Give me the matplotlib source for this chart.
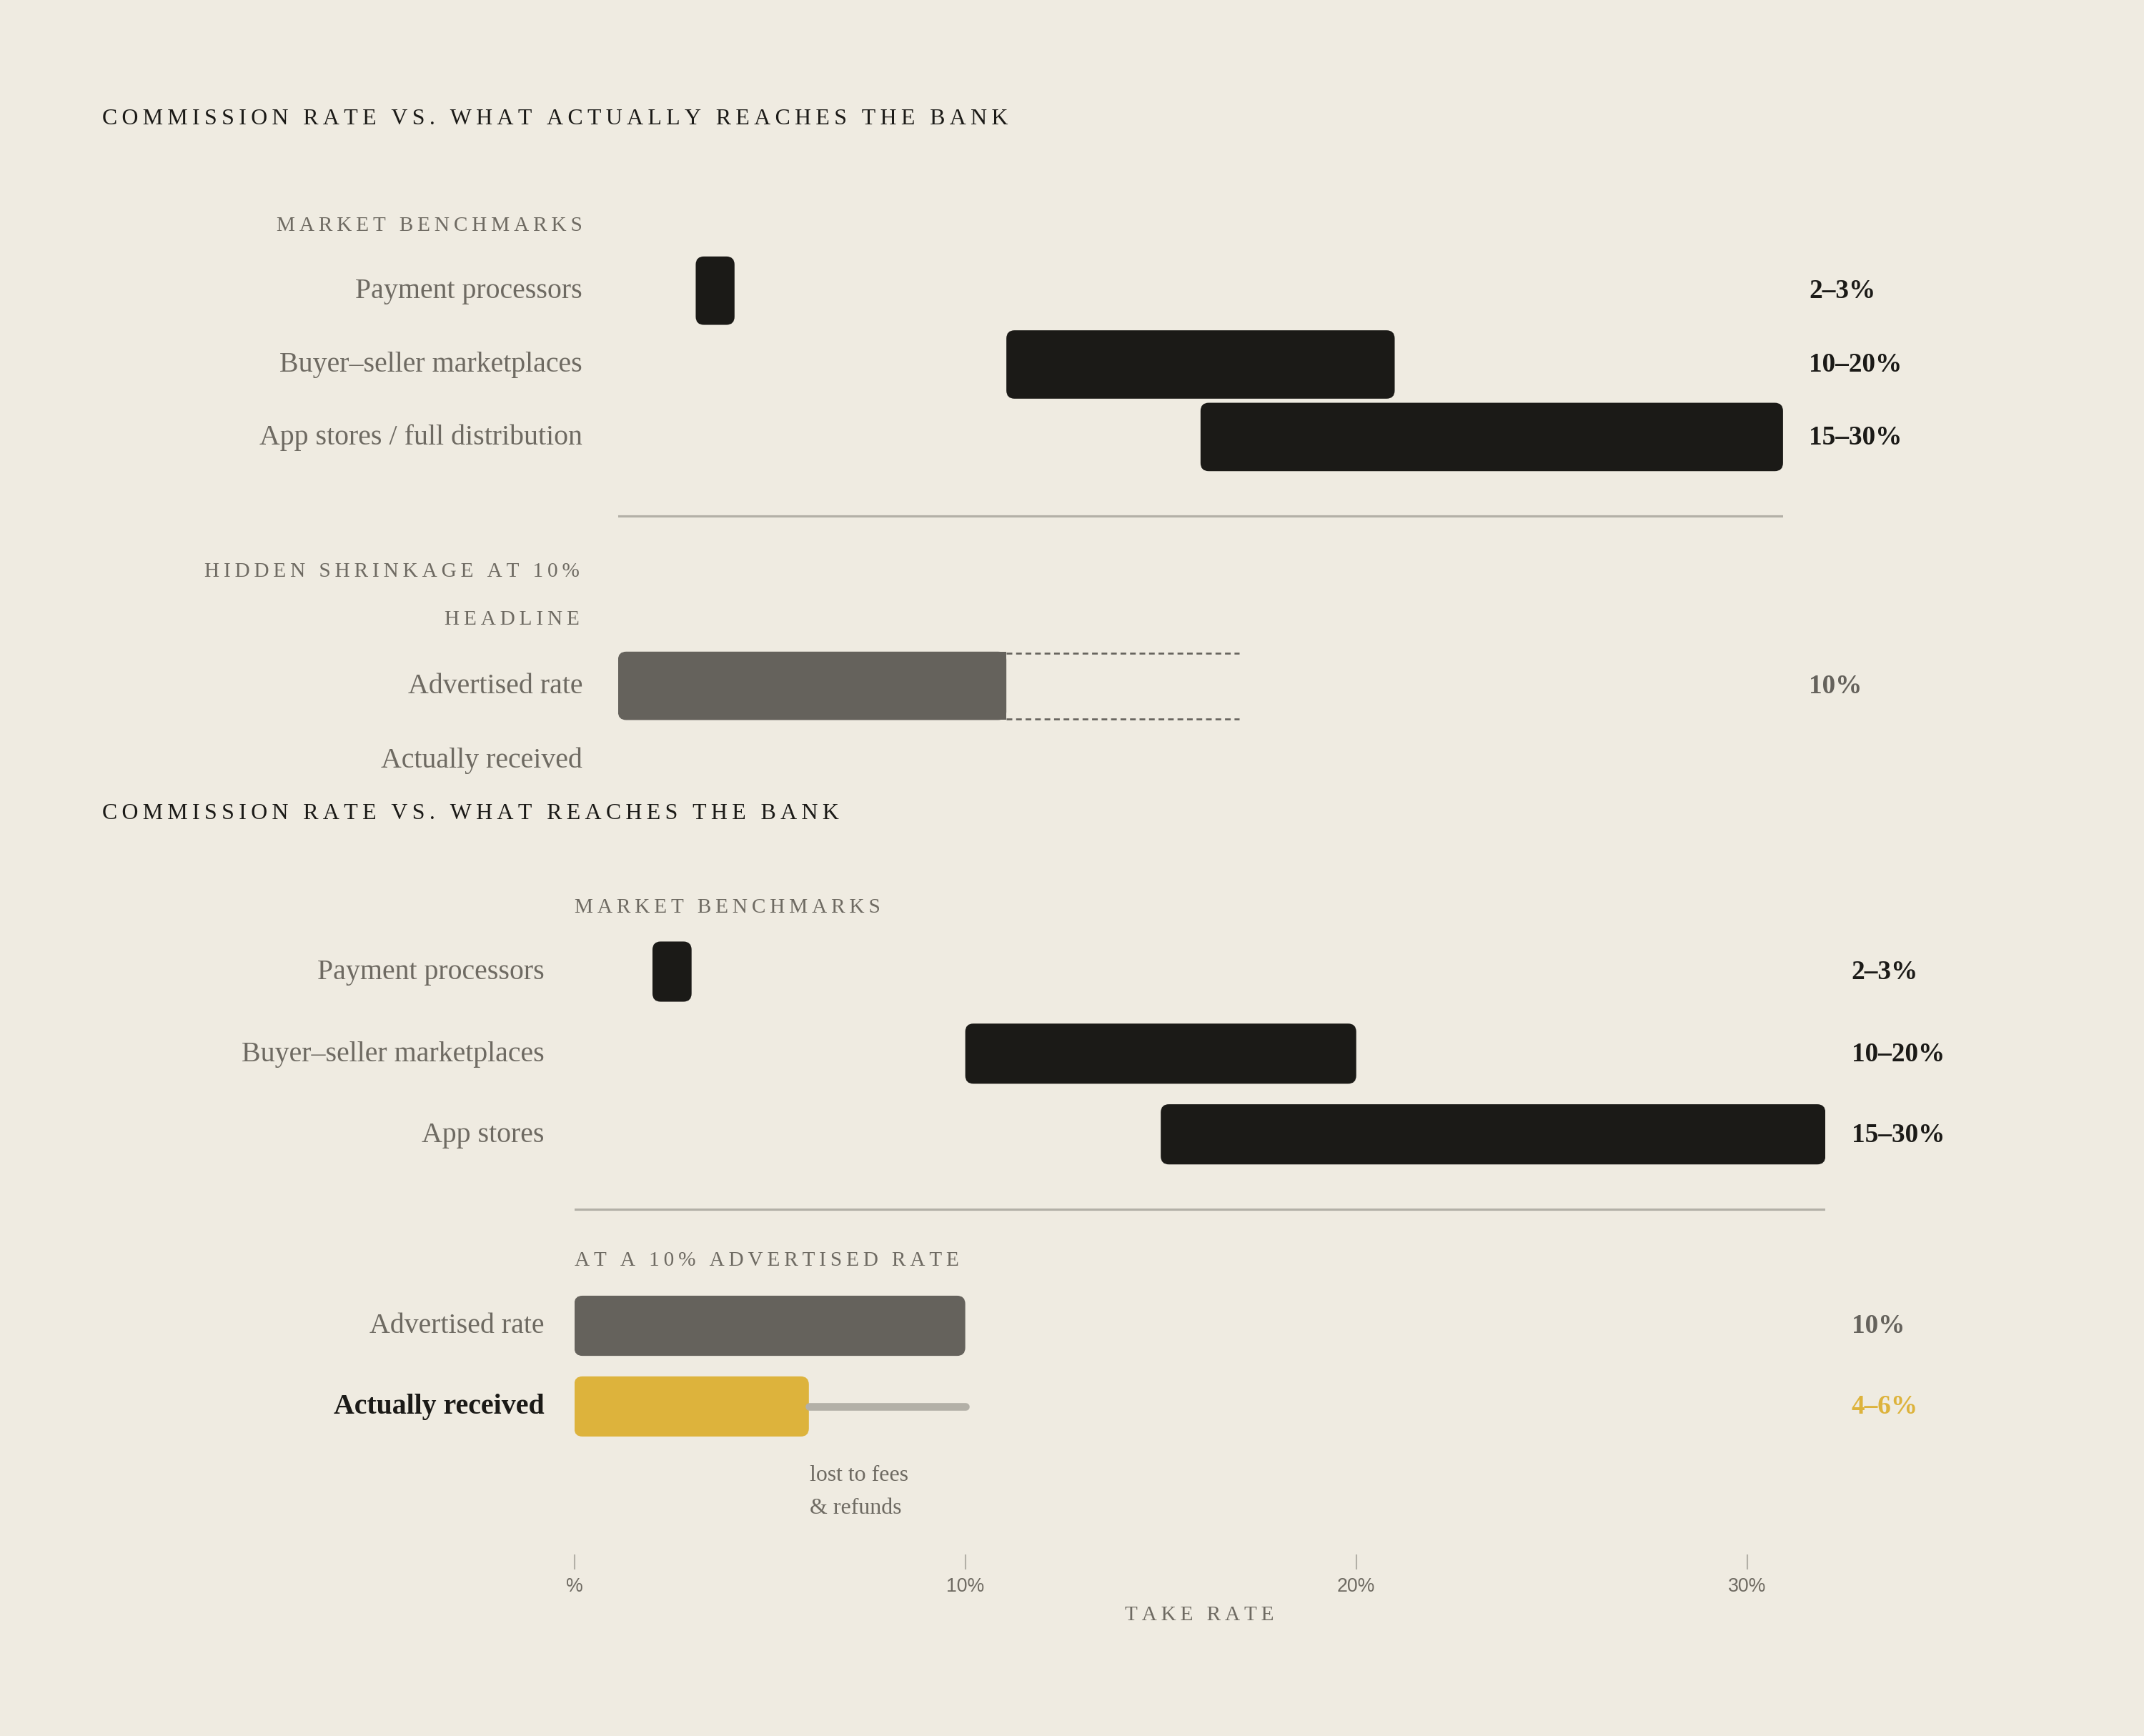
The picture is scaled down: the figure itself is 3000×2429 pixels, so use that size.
import matplotlib.pyplot as plt
from matplotlib.patches import FancyBboxPatch

# data
top_cats = ["Payment processors", "Buyer\u2013seller marketplaces", "App stores / full distribution"]
top_lo = [2.0, 10.0, 15.0]
top_hi = [3.0, 20.0, 30.0]
top_vals = ["2\u20133%", "10\u201320%", "15\u201330%"]

bot_cats = ["Payment processors", "Buyer\u2013seller marketplaces", "App stores"]
bot_lo = [2.0, 10.0, 15.0]
bot_hi = [3.0, 20.0, 32.0]
bot_vals = ["2\u20133%", "10\u201320%", "15\u201330%"]

advertised = 10.0
received = 6.0
ticks = [0, 10, 20, 30]
tick_labels = ["%", "10%", "20%", "30%"]

BG = "#EFEBE1"
DARK = "#1B1A17"
GRAY = "#65625C"
GOLD = "#DDB33C"
RULE = "#B3B0A7"
LBL = "#6E6A62"
SERIF = ["Liberation Serif", "DejaVu Serif"]
SANS = ["Liberation Sans", "DejaVu Sans"]

W, H = 1568, 1270
fig = plt.figure(figsize=(W / 100, H / 100), dpi=3000 / (W / 100))
fig.patch.set_facecolor(BG)


def spaced(s):
    return "\u2009".join(s)


def ftext(x, y, s, **kw):
    kw.setdefault("family", SERIF)
    fig.text(x / W, 1 - y / H, s, **kw)


def make_ax(x0, x1, y0, y1, xmax):
    ax = fig.add_axes([x0 / W, 1 - y1 / H, (x1 - x0) / W, (y1 - y0) / H])
    ax.set_xlim(0, xmax)
    ax.set_ylim(y1, y0)
    ax.set_facecolor("none")
    for s in ax.spines.values():
        s.set_visible(False)
    ax.set_yticks([])
    return ax, (x1 - x0) / xmax


def rbar(ax, ppx, lo, hi, yc, h, color, r=6):
    p = FancyBboxPatch((lo, yc - h / 2), hi - lo, h,
                       boxstyle=f"round,pad=0,rounding_size={r / ppx}",
                       mutation_aspect=ppx, fc=color, ec="none")
    ax.add_patch(p)


# ---- top (first) version ----
ax1, ppx1 = make_ax(452, 1304, 150, 600, 30)
ax1.set_xticks([])
ftext(75, 87, spaced("COMMISSION RATE VS. WHAT ACTUALLY REACHES THE BANK"),
      fontsize=12, color=DARK, va="center")
ftext(426, 165, spaced("MARKET BENCHMARKS"), fontsize=11, color=LBL, va="center", ha="right")
ys1 = [213, 267, 320]
for c, lo, hi, v, y in zip(top_cats, top_lo, top_hi, top_vals, ys1):
    rbar(ax1, ppx1, lo, hi, y, 50, DARK)
    ftext(426, y, c, fontsize=15, color=LBL, va="center", ha="right")
    ftext(1323, y, v, fontsize=14, color=DARK, va="center", weight="bold")
ax1.plot([0, 30], [378, 378], color=RULE, lw=1.2)
ftext(424, 418, spaced("HIDDEN SHRINKAGE AT 10%"), fontsize=11, color=LBL, va="center", ha="right")
ftext(424, 453, spaced("HEADLINE"), fontsize=11, color=LBL, va="center", ha="right")
rbar(ax1, ppx1, 0, advertised, 502, 50, GRAY)
ax1.add_patch(plt.Rectangle((advertised - 0.4, 477), 0.4, 50, fc=GRAY, ec="none"))
for yy in (478, 526):
    ax1.plot([advertised, 16], [yy, yy], color=GRAY, lw=1, ls=(0, (3, 2)))
ftext(426, 502, "Advertised rate", fontsize=15, color=LBL, va="center", ha="right")
ftext(1323, 502, "10%", fontsize=14, color=GRAY, va="center", weight="bold")
ftext(426, 556, "Actually received", fontsize=15, color=LBL, va="center", ha="right")

# ---- bottom (second) version ----
ax2, ppx2 = make_ax(420, 1335, 640, 1137, 32)
ftext(75, 595, spaced("COMMISSION RATE VS. WHAT REACHES THE BANK"),
      fontsize=12, color=DARK, va="center")
ftext(420, 664, spaced("MARKET BENCHMARKS"), fontsize=11, color=LBL, va="center")
ys2 = [711, 771, 830]
for c, lo, hi, v, y in zip(bot_cats, bot_lo, bot_hi, bot_vals, ys2):
    rbar(ax2, ppx2, lo, hi, y, 44, DARK)
    ftext(398, y, c, fontsize=15, color=LBL, va="center", ha="right")
    ftext(1354, y, v, fontsize=14, color=DARK, va="center", weight="bold")
ax2.plot([0, 32], [885, 885], color=RULE, lw=1.2)
ftext(420, 922, spaced("AT A 10% ADVERTISED RATE"), fontsize=11, color=LBL, va="center")
rbar(ax2, ppx2, 0, advertised, 970, 44, GRAY)
ftext(398, 970, "Advertised rate", fontsize=15, color=LBL, va="center", ha="right")
ftext(1354, 970, "10%", fontsize=14, color=GRAY, va="center", weight="bold")
ax2.plot([received, advertised], [1029, 1029], color=RULE, lw=4, solid_capstyle="round")
rbar(ax2, ppx2, 0, received, 1029, 44, GOLD)
ftext(398, 1029, "Actually received", fontsize=15, color=DARK, va="center", ha="right", weight="bold")
ftext(1354, 1029, "4\u20136%", fontsize=14, color=GOLD, va="center", weight="bold")
ftext(592, 1079, "lost to fees", fontsize=12, color=LBL, va="center")
ftext(592, 1103, "& refunds", fontsize=12, color=LBL, va="center")

ax2.set_xticks(ticks)
ax2.set_xticklabels(tick_labels, family=SANS, fontsize=10, color=LBL)
ax2.tick_params(axis="x", length=8, color=RULE, pad=4)
ftext(877, 1181, spaced("TAKE RATE"), fontsize=11, color=LBL, va="center", ha="center")

fig.savefig("out.png", facecolor=BG)
